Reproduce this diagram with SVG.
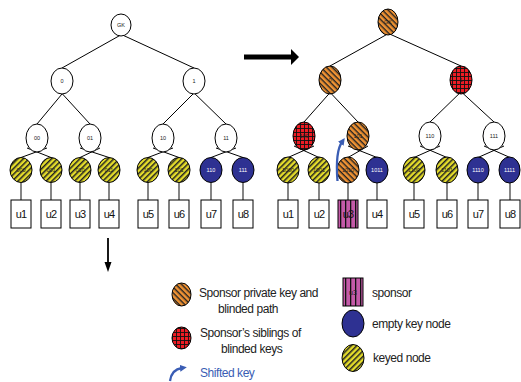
<svg xmlns="http://www.w3.org/2000/svg" width="521" height="382" viewBox="0 0 521 382">
<defs>
<pattern id="yel" width="4" height="4" patternUnits="userSpaceOnUse" patternTransform="rotate(-45)"><rect width="4" height="4" fill="#e4dc2a"/><rect width="4" height="1.5" fill="#222"/></pattern>
<pattern id="org" width="4" height="4" patternUnits="userSpaceOnUse" patternTransform="rotate(45)"><rect width="4" height="4" fill="#ef9233"/><rect width="4" height="1.4" fill="#222"/></pattern>
<pattern id="chk" width="4" height="4" patternUnits="userSpaceOnUse"><rect width="4" height="4" fill="#ee1c24"/><rect width="4" height="0.9" fill="#111"/><rect width="0.9" height="4" fill="#111"/></pattern>
<pattern id="pur" width="5" height="5" patternUnits="userSpaceOnUse"><rect width="5" height="5" fill="#c45aa8"/><rect width="1.3" height="5" fill="#111"/></pattern>
<marker id="barr" viewBox="0 0 10 10" refX="3" refY="5" markerWidth="3" markerHeight="3" orient="auto"><path d="M0,0 L10,5 L0,10 z" fill="#3a5db4"/></marker>
</defs>
<style>
.ln{stroke:#000;stroke-width:1;fill:none}
.vl{stroke:#444;stroke-width:1.3;fill:none}
.nd{stroke:#000;stroke-width:1}
.wh{fill:#fff}
.ye{fill:url(#yel)}
.or{fill:url(#org)}
.rd{fill:url(#chk)}
.bl{fill:#2e3192}
.lb{font-family:"Liberation Sans",Arial,sans-serif;font-size:5.5px;text-anchor:middle;fill:#222}
.lw{fill:#fff}
.bx{fill:#fff;stroke:#000;stroke-width:1}
.bt{font-family:"Liberation Sans",Arial,sans-serif;font-size:11px;letter-spacing:-0.9px;text-anchor:middle;fill:#111}
.lg{font-family:"Liberation Sans",Arial,sans-serif;font-size:12px;fill:#222;letter-spacing:-0.45px}
</style>
<rect width="521" height="382" fill="#fff"/>

<g id="connectors">
<line class="ln" x1="62" y1="68" x2="126" y2="32"/>
<line class="ln" x1="194" y1="68" x2="116" y2="32"/>
<line class="ln" x1="37" y1="124" x2="67" y2="88"/>
<line class="ln" x1="90" y1="124" x2="57" y2="88"/>
<line class="ln" x1="163" y1="124" x2="199" y2="88"/>
<line class="ln" x1="226" y1="124" x2="189" y2="88"/>
<line class="ln" x1="21" y1="157.5" x2="47" y2="148"/>
<line class="ln" x1="51" y1="157.5" x2="27" y2="148"/>
<line class="ln" x1="80" y1="157.5" x2="100" y2="148"/>
<line class="ln" x1="109" y1="157.5" x2="80" y2="148"/>
<line class="ln" x1="148" y1="157.5" x2="173" y2="148"/>
<line class="ln" x1="179" y1="157.5" x2="153" y2="148"/>
<line class="ln" x1="211" y1="157.5" x2="236" y2="148"/>
<line class="ln" x1="243" y1="157.5" x2="216" y2="148"/>
<line class="vl" x1="21" y1="183" x2="21" y2="200"/>
<line class="vl" x1="51" y1="183" x2="51" y2="200"/>
<line class="vl" x1="80" y1="183" x2="80" y2="200"/>
<line class="vl" x1="109" y1="183" x2="109" y2="200"/>
<line class="vl" x1="148" y1="183" x2="148" y2="200"/>
<line class="vl" x1="179" y1="183" x2="179" y2="200"/>
<line class="vl" x1="211" y1="183" x2="211" y2="200"/>
<line class="vl" x1="243" y1="183" x2="243" y2="200"/>
<line class="ln" x1="330" y1="66" x2="393" y2="31"/>
<line class="ln" x1="461" y1="66" x2="383" y2="31"/>
<line class="ln" x1="304" y1="122" x2="335" y2="87"/>
<line class="ln" x1="358" y1="122" x2="325" y2="87"/>
<line class="ln" x1="430" y1="122" x2="466" y2="87"/>
<line class="ln" x1="494" y1="122" x2="456" y2="87"/>
<line class="ln" x1="288" y1="157.5" x2="314" y2="146"/>
<line class="ln" x1="319" y1="157.5" x2="294" y2="146"/>
<line class="ln" x1="348" y1="157.5" x2="368" y2="146"/>
<line class="ln" x1="377" y1="157.5" x2="348" y2="146"/>
<line class="ln" x1="414" y1="157.5" x2="440" y2="146"/>
<line class="ln" x1="447" y1="157.5" x2="420" y2="146"/>
<line class="ln" x1="478" y1="157.5" x2="504" y2="146"/>
<line class="ln" x1="510" y1="157.5" x2="484" y2="146"/>
<line class="vl" x1="288" y1="183" x2="288" y2="200"/>
<line class="vl" x1="319" y1="183" x2="319" y2="200"/>
<line class="vl" x1="348" y1="183" x2="348" y2="200"/>
<line class="vl" x1="377" y1="183" x2="377" y2="200"/>
<line class="vl" x1="414" y1="183" x2="414" y2="200"/>
<line class="vl" x1="447" y1="183" x2="447" y2="200"/>
<line class="vl" x1="478" y1="183" x2="478" y2="200"/>
<line class="vl" x1="510" y1="183" x2="510" y2="200"/>
<polygon points="244,54.5 291,54.5 291,49 299,57 291,65 291,59.5 244,59.5" fill="#000"/>
<line x1="108" y1="238" x2="108" y2="264" stroke="#000" stroke-width="1.8"/>
<polygon points="104.5,262 111.5,262 108,272" fill="#000"/>
</g>

<g id="L-GK"><ellipse class="nd wh" cx="121" cy="25" rx="10" ry="11"/><text class="lb" x="121" y="27">GK</text></g>
<g id="L-0"><ellipse class="nd wh" cx="62" cy="81" rx="11" ry="13"/><text class="lb" x="62" y="83">0</text></g>
<g id="L-1"><ellipse class="nd wh" cx="194" cy="81" rx="11" ry="13"/><text class="lb" x="194" y="83">1</text></g>
<g id="L-00"><ellipse class="nd wh" cx="37" cy="138" rx="11" ry="14"/><text class="lb" x="37" y="140">00</text></g>
<g id="L-01"><ellipse class="nd wh" cx="90" cy="138" rx="11" ry="14"/><text class="lb" x="90" y="140">01</text></g>
<g id="L-10"><ellipse class="nd wh" cx="163" cy="138" rx="11" ry="14"/><text class="lb" x="163" y="140">10</text></g>
<g id="L-11"><ellipse class="nd wh" cx="226" cy="138" rx="11" ry="14"/><text class="lb" x="226" y="140">11</text></g>
<g id="L-000"><ellipse class="nd ye" cx="21" cy="170" rx="11" ry="12.5"/><text class="lb" x="21" y="172">000</text></g>
<g id="L-001"><ellipse class="nd ye" cx="51" cy="170" rx="11" ry="12.5"/><text class="lb" x="51" y="172">001</text></g>
<g id="L-010"><ellipse class="nd ye" cx="80" cy="170" rx="11" ry="12.5"/><text class="lb" x="80" y="172">010</text></g>
<g id="L-011"><ellipse class="nd ye" cx="109" cy="170" rx="11" ry="12.5"/><text class="lb" x="109" y="172">011</text></g>
<g id="L-100"><ellipse class="nd ye" cx="148" cy="170" rx="11" ry="12.5"/><text class="lb" x="148" y="172">100</text></g>
<g id="L-101"><ellipse class="nd ye" cx="179" cy="170" rx="11" ry="12.5"/><text class="lb" x="179" y="172">101</text></g>
<g id="L-110"><ellipse class="nd bl" cx="211" cy="170" rx="11" ry="12.5"/><text class="lb lw" x="211" y="172">110</text></g>
<g id="L-111"><ellipse class="nd bl" cx="243" cy="170" rx="11" ry="12.5"/><text class="lb lw" x="243" y="172">111</text></g>
<g id="L-u1"><rect class="bx" x="11" y="200" width="20" height="28"/><text class="bt" x="21" y="218">u1</text></g>
<g id="L-u2"><rect class="bx" x="41" y="200" width="20" height="28"/><text class="bt" x="51" y="218">u2</text></g>
<g id="L-u3"><rect class="bx" x="70" y="200" width="20" height="28"/><text class="bt" x="80" y="218">u3</text></g>
<g id="L-u4"><rect class="bx" x="99" y="200" width="20" height="28"/><text class="bt" x="109" y="218">u4</text></g>
<g id="L-u5"><rect class="bx" x="138" y="200" width="20" height="28"/><text class="bt" x="148" y="218">u5</text></g>
<g id="L-u6"><rect class="bx" x="169" y="200" width="20" height="28"/><text class="bt" x="179" y="218">u6</text></g>
<g id="L-u7"><rect class="bx" x="201" y="200" width="20" height="28"/><text class="bt" x="211" y="218">u7</text></g>
<g id="L-u8"><rect class="bx" x="233" y="200" width="20" height="28"/><text class="bt" x="243" y="218">u8</text></g>

<g id="R-GK"><ellipse class="nd or" cx="388" cy="22" rx="10" ry="13"/><text class="lb" x="388" y="24">GK</text></g>
<g id="R-0"><ellipse class="nd or" cx="330" cy="80" rx="11" ry="14"/><text class="lb" x="330" y="82">0</text></g>
<g id="R-1"><ellipse class="nd rd" cx="461" cy="80" rx="11" ry="14"/><text class="lb" x="461" y="82">1</text></g>
<g id="R-100"><ellipse class="nd rd" cx="304" cy="136" rx="11" ry="14"/><text class="lb" x="304" y="138">100</text></g>
<g id="R-101"><ellipse class="nd or" cx="358" cy="136" rx="11" ry="14"/><text class="lb" x="358" y="138">101</text></g>
<g id="R-110"><ellipse class="nd wh" cx="430" cy="136" rx="11" ry="14"/><text class="lb" x="430" y="138">110</text></g>
<g id="R-111"><ellipse class="nd wh" cx="494" cy="136" rx="11" ry="14"/><text class="lb" x="494" y="138">111</text></g>
<g id="R-1000"><ellipse class="nd ye" cx="288" cy="170" rx="11" ry="13"/><text class="lb" x="288" y="172">1000</text></g>
<g id="R-1001"><ellipse class="nd ye" cx="319" cy="170" rx="11" ry="13"/><text class="lb" x="319" y="172">1001</text></g>
<g id="R-1010"><ellipse class="nd or" cx="348" cy="170" rx="11" ry="13"/><text class="lb" x="348" y="172">1010</text></g>
<g id="R-1011"><ellipse class="nd bl" cx="377" cy="170" rx="11" ry="13"/><text class="lb lw" x="377" y="172">1011</text></g>
<g id="R-1100"><ellipse class="nd ye" cx="414" cy="170" rx="11" ry="13"/><text class="lb" x="414" y="172">1100</text></g>
<g id="R-1101"><ellipse class="nd ye" cx="447" cy="170" rx="11" ry="13"/><text class="lb" x="447" y="172">1101</text></g>
<g id="R-1110"><ellipse class="nd bl" cx="478" cy="170" rx="11" ry="13"/><text class="lb lw" x="478" y="172">1110</text></g>
<g id="R-1111"><ellipse class="nd bl" cx="509.5" cy="170" rx="10.5" ry="13"/><text class="lb lw" x="509.5" y="172">1111</text></g>
<g id="R-u1"><rect class="bx" x="278" y="200" width="20" height="28"/><text class="bt" x="288" y="218">u1</text></g>
<g id="R-u2"><rect class="bx" x="309" y="200" width="20" height="28"/><text class="bt" x="319" y="218">u2</text></g>
<g id="R-u3"><rect x="338" y="200" width="20" height="28" fill="url(#pur)" stroke="#000"/><text class="bt" x="348" y="218">u3</text></g>
<g id="R-u4"><rect class="bx" x="367" y="200" width="20" height="28"/><text class="bt" x="377" y="218">u4</text></g>
<g id="R-u5"><rect class="bx" x="404" y="200" width="20" height="28"/><text class="bt" x="414" y="218">u5</text></g>
<g id="R-u6"><rect class="bx" x="437" y="200" width="20" height="28"/><text class="bt" x="447" y="218">u6</text></g>
<g id="R-u7"><rect class="bx" x="468" y="200" width="20" height="28"/><text class="bt" x="478" y="218">u7</text></g>
<g id="R-u8"><rect class="bx" x="500" y="200" width="20" height="28"/><text class="bt" x="510" y="218">u8</text></g>

<g id="shift-arrow"><path d="M337.5,181 C336,162 337,149 342,142" stroke="#3a5db4" stroke-width="2.3" fill="none" marker-end="url(#barr)"/></g>

<g id="legend">
<ellipse class="nd or" cx="181.5" cy="294.5" rx="9.5" ry="11.5"/>
<text class="lg" x="199" y="297">Sponsor private key and</text>
<text class="lg" x="218" y="313">blinded path</text>
<ellipse class="nd rd" cx="181.5" cy="338" rx="9.5" ry="11"/>
<text class="lg" x="200" y="337">Sponsor’s siblings of</text>
<text class="lg" x="221" y="353">blinded keys</text>
<path d="M170,381 C171,373 175,369 182,368" stroke="#3a5db4" stroke-width="2.3" fill="none" marker-end="url(#barr)"/>
<text class="lg" x="200" y="377" style="fill:#3a5db4">Shifted key</text>
<rect x="343" y="278" width="20" height="28" fill="url(#pur)" stroke="#000"/>
<text class="lb" x="353" y="295" style="font-size:7px;fill:#222">u3</text>
<text class="lg" x="372" y="297">sponsor</text>
<ellipse class="nd bl" cx="353" cy="323.5" rx="11" ry="13.5"/>
<text class="lg" x="372" y="328">empty key node</text>
<ellipse class="nd ye" cx="353" cy="358" rx="11" ry="13.5"/>
<text class="lg" x="373" y="362">keyed node</text>
</g>
</svg>
